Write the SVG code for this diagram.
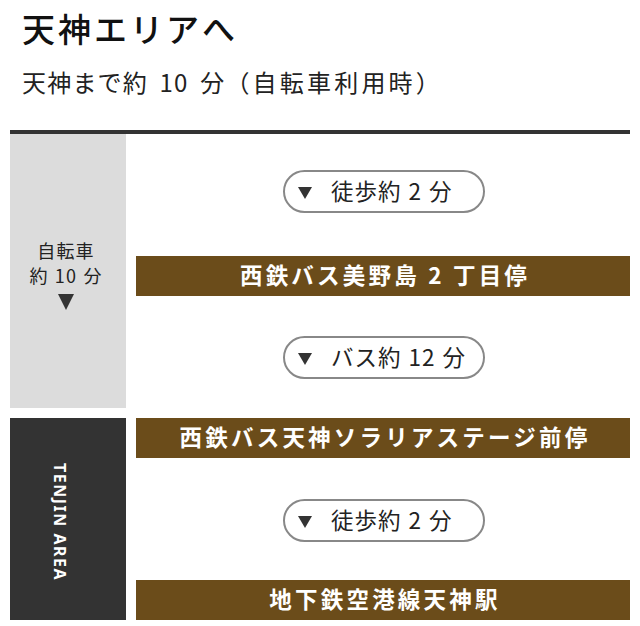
<svg xmlns="http://www.w3.org/2000/svg" width="640" height="626" viewBox="0 0 640 626">
<style>
text{font-family:"Noto Sans CJK JP","Noto Sans",sans-serif}
.title{font-size:33px;font-weight:500;fill:#111;letter-spacing:3px}
.sub{font-size:24px;fill:#222;letter-spacing:1.2px;word-spacing:5px}
.paren{letter-spacing:3.2px}
.side{font-size:18px;fill:#222;text-anchor:middle;letter-spacing:1.2px;word-spacing:1px}
.pill rect{fill:#fff;stroke:#888;stroke-width:2}
.pill text{font-size:22.5px;fill:#222;letter-spacing:1px;word-spacing:1px}
.stop rect{fill:#6b4c1a}
.stop text{font-size:22.5px;font-weight:700;fill:#fff;text-anchor:middle;letter-spacing:3.2px}
.tri{fill:#333}
</style>
<rect width="640" height="626" fill="#fff"/>
<text class="title" x="22" y="42">天神エリアへ</text>
<text class="sub" x="22" y="92">天神まで約 10 分<tspan class="paren">（自転車利用時）</tspan></text>
<rect x="10" y="130" width="620" height="4" fill="#333"/>
<g id="bicycle">
<rect x="10" y="134" width="116" height="274" fill="#dcdcdc"/>
<text class="side" x="66" y="258">自転車</text>
<text class="side" x="66" y="283">約 10 分</text>
<path class="tri" d="M58,294 L74,294 L66,310 Z"/>
</g>
<g id="tenjin-area">
<rect x="10" y="418" width="116" height="202" fill="#333"/>
<text transform="translate(54,522) rotate(90)" text-anchor="middle" font-size="16" font-weight="700" fill="#fff" letter-spacing="1.5" style="font-family:'Noto Sans','Liberation Sans',sans-serif">TENJIN AREA</text>
</g>
<g id="connectors">
<g class="pill" id="walk1">
<rect x="284" y="171" width="200" height="41" rx="20.5"/>
<path class="tri" d="M298,187 L312,187 L305,199 Z"/>
<text x="331" y="200">徒歩約 2 分</text>
</g>
<g class="pill" id="bus">
<rect x="284" y="337" width="200" height="41" rx="20.5"/>
<path class="tri" d="M298,353 L312,353 L305,365 Z"/>
<text x="331" y="366">バス約 12 分</text>
</g>
<g class="pill" id="walk2">
<rect x="284" y="500" width="200" height="41" rx="20.5"/>
<path class="tri" d="M298,516 L312,516 L305,528 Z"/>
<text x="331" y="529">徒歩約 2 分</text>
</g>
</g>
<g class="stop" id="minoshima">
<rect x="136" y="256" width="494" height="40"/>
<text x="385" y="284">西鉄バス美野島 2 丁目停</text>
</g>
<g class="stop" id="solaria">
<rect x="136" y="418" width="494" height="40"/>
<text x="385" y="446">西鉄バス天神ソラリアステージ前停</text>
</g>
<g class="stop" id="subway">
<rect x="136" y="580" width="494" height="40"/>
<text x="385" y="608">地下鉄空港線天神駅</text>
</g>
</svg>
